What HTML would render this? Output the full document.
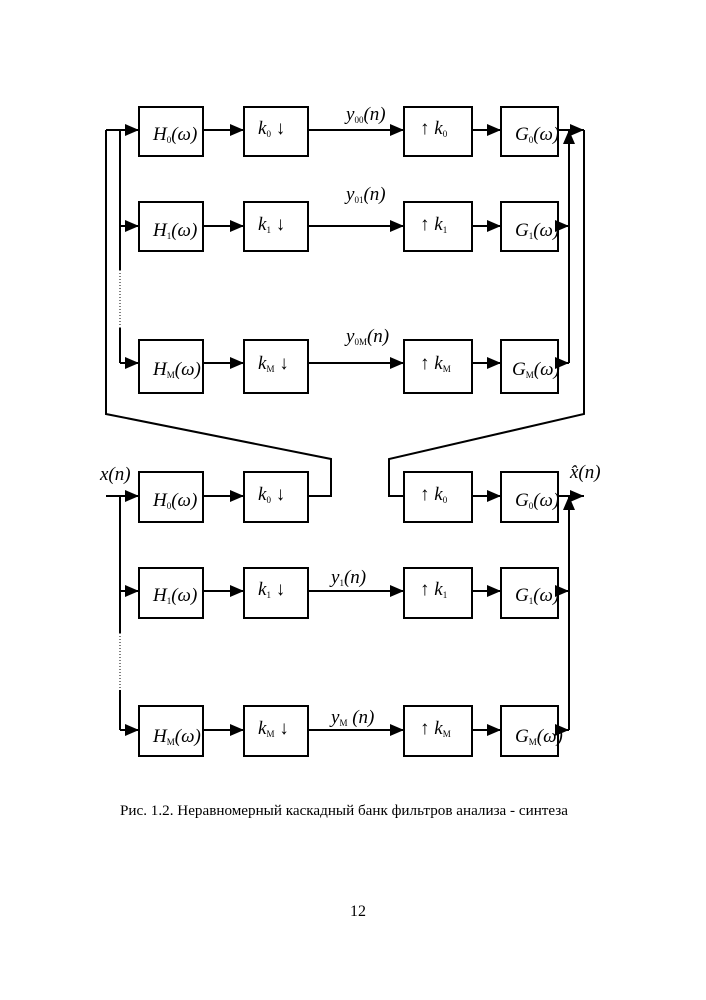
<!DOCTYPE html>
<html><head><meta charset="utf-8"><style>
body{margin:0;background:#fff}
svg{display:block}
text{font-family:"Liberation Serif",serif;fill:#000}
.i{font-style:italic;font-size:19px}
.s{font-size:9px;font-style:normal}
</style></head><body>
<svg width="706" height="1000" viewBox="0 0 706 1000">
<defs><marker id="a" markerWidth="14" markerHeight="12" refX="14" refY="6" orient="auto" markerUnits="userSpaceOnUse"><path d="M0,0 L14,6 L0,12z" fill="#000"/></marker></defs>
<g fill="none" stroke="#000" stroke-width="2">
<rect x="139" y="107" width="64" height="49"/><rect x="244" y="107" width="64" height="49"/><rect x="404" y="107" width="68" height="49"/><rect x="501" y="107" width="57" height="49"/>
<rect x="139" y="202" width="64" height="49"/><rect x="244" y="202" width="64" height="49"/><rect x="404" y="202" width="68" height="49"/><rect x="501" y="202" width="57" height="49"/>
<rect x="139" y="340" width="64" height="53"/><rect x="244" y="340" width="64" height="53"/><rect x="404" y="340" width="68" height="53"/><rect x="501" y="340" width="57" height="53"/>
<rect x="139" y="472" width="64" height="50"/><rect x="244" y="472" width="64" height="50"/><rect x="404" y="472" width="68" height="50"/><rect x="501" y="472" width="57" height="50"/>
<rect x="139" y="568" width="64" height="50"/><rect x="244" y="568" width="64" height="50"/><rect x="404" y="568" width="68" height="50"/><rect x="501" y="568" width="57" height="50"/>
<rect x="139" y="706" width="64" height="50"/><rect x="244" y="706" width="64" height="50"/><rect x="404" y="706" width="68" height="50"/><rect x="501" y="706" width="57" height="50"/>
<g marker-end="url(#a)">
<path d="M106,130H139"/><path d="M120,226H139"/><path d="M120,363H139"/>
<path d="M203,130H244"/><path d="M308,130H404"/><path d="M472,130H501"/><path d="M558,130H584"/>
<path d="M203,226H244"/><path d="M308,226H404"/><path d="M472,226H501"/><path d="M558,226H569"/>
<path d="M203,363H244"/><path d="M308,363H404"/><path d="M472,363H501"/><path d="M558,363H569"/>
<path d="M569,363V130"/>
<path d="M106,496H139"/><path d="M203,496H244"/><path d="M472,496H501"/><path d="M558,496H584"/>
<path d="M120,591H139"/><path d="M203,591H244"/><path d="M308,591H404"/><path d="M472,591H501"/><path d="M558,591H569"/>
<path d="M120,730H139"/><path d="M203,730H244"/><path d="M308,730H404"/><path d="M472,730H501"/><path d="M558,730H569"/>
<path d="M569,730V496"/>
</g>
<path d="M120,130V270M120,328V363"/><path d="M569,130V270M569,328V363" />
<path d="M120,496V633M120,690V730"/>
<path d="M106,130V414L331,459V496H308"/>
<path d="M584,130V414L389,459V496H404"/>
</g>
<g stroke="#000" stroke-width="1" stroke-dasharray="1,2" fill="none">
<path d="M120,270V328M569,270V328M120,633V690M569,633V690"/>
</g>
<g class="i">
<text x="153" y="140">H<tspan class="s" dy="3">0</tspan><tspan dy="-3">(ω)</tspan></text>
<text x="153" y="236">H<tspan class="s" dy="3">1</tspan><tspan dy="-3">(ω)</tspan></text>
<text x="153" y="375">H<tspan class="s" dy="3">M</tspan><tspan dy="-3">(ω)</tspan></text>
<text x="153" y="506">H<tspan class="s" dy="3">0</tspan><tspan dy="-3">(ω)</tspan></text>
<text x="153" y="601">H<tspan class="s" dy="3">1</tspan><tspan dy="-3">(ω)</tspan></text>
<text x="153" y="742">H<tspan class="s" dy="3">M</tspan><tspan dy="-3">(ω)</tspan></text>
<text x="258" y="134">k<tspan class="s" dy="3">0</tspan><tspan dy="-3" font-style="normal"> ↓</tspan></text>
<text x="258" y="230">k<tspan class="s" dy="3">1</tspan><tspan dy="-3" font-style="normal"> ↓</tspan></text>
<text x="258" y="369">k<tspan class="s" dy="3">M</tspan><tspan dy="-3" font-style="normal"> ↓</tspan></text>
<text x="258" y="500">k<tspan class="s" dy="3">0</tspan><tspan dy="-3" font-style="normal"> ↓</tspan></text>
<text x="258" y="595">k<tspan class="s" dy="3">1</tspan><tspan dy="-3" font-style="normal"> ↓</tspan></text>
<text x="258" y="734">k<tspan class="s" dy="3">M</tspan><tspan dy="-3" font-style="normal"> ↓</tspan></text>
<text x="420" y="134"><tspan font-style="normal">↑ </tspan>k<tspan class="s" dy="3">0</tspan></text>
<text x="420" y="230"><tspan font-style="normal">↑ </tspan>k<tspan class="s" dy="3">1</tspan></text>
<text x="420" y="369"><tspan font-style="normal">↑ </tspan>k<tspan class="s" dy="3">M</tspan></text>
<text x="420" y="500"><tspan font-style="normal">↑ </tspan>k<tspan class="s" dy="3">0</tspan></text>
<text x="420" y="595"><tspan font-style="normal">↑ </tspan>k<tspan class="s" dy="3">1</tspan></text>
<text x="420" y="734"><tspan font-style="normal">↑ </tspan>k<tspan class="s" dy="3">M</tspan></text>
<text x="515" y="140">G<tspan class="s" dy="3">0</tspan><tspan dy="-3">(ω)</tspan></text>
<text x="515" y="236">G<tspan class="s" dy="3">1</tspan><tspan dy="-3">(ω)</tspan></text>
<text x="512" y="375">G<tspan class="s" dy="3">M</tspan><tspan dy="-3">(ω)</tspan></text>
<text x="515" y="506">G<tspan class="s" dy="3">0</tspan><tspan dy="-3">(ω)</tspan></text>
<text x="515" y="601">G<tspan class="s" dy="3">1</tspan><tspan dy="-3">(ω)</tspan></text>
<text x="515" y="742">G<tspan class="s" dy="3">M</tspan><tspan dy="-3">(ω)</tspan></text>
<text x="346" y="120">y<tspan class="s" dy="3">00</tspan><tspan dy="-3">(n)</tspan></text>
<text x="346" y="200">y<tspan class="s" dy="3">01</tspan><tspan dy="-3">(n)</tspan></text>
<text x="346" y="342">y<tspan class="s" dy="3">0M</tspan><tspan dy="-3">(n)</tspan></text>
<text x="331" y="583">y<tspan class="s" dy="3">1</tspan><tspan dy="-3">(n)</tspan></text>
<text x="331" y="723">y<tspan class="s" dy="3">M</tspan><tspan dy="-3"> (n)</tspan></text>
<text x="100" y="480">x(n)</text>
<text x="570" y="478">x̂(n)</text>
</g>
<text x="344" y="815" text-anchor="middle" font-size="15" textLength="448" lengthAdjust="spacingAndGlyphs">Рис. 1.2. Неравномерный каскадный банк фильтров анализа - синтеза</text>
<text x="358" y="916" text-anchor="middle" font-size="16">12</text>
</svg>
</body></html>
